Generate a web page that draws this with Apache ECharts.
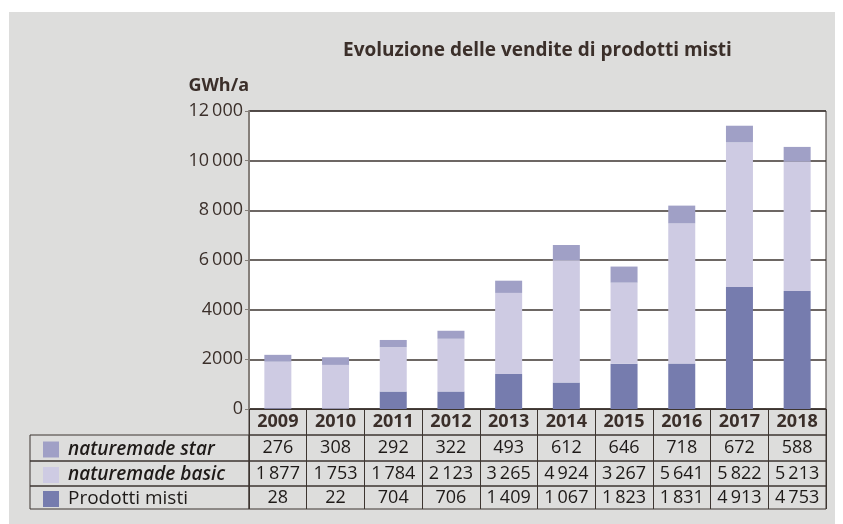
<!DOCTYPE html>
<html lang="it">
<head>
  <meta charset="UTF-8">
  <title>Evoluzione delle vendite di prodotti misti</title>
  <script src="https://cdnjs.cloudflare.com/ajax/libs/echarts/6.0.0/echarts.min.js"></script>
  <style>
    body { margin: 0; background: #fff; }
    #frame {
      position: absolute;
      left: 9px; top: 12px;
      width: 826px; height: 512px;
      background: #dddddc;
    }
    #chart { position: absolute; left: 0; top: 0; width: 843px; height: 524px; }
  </style>
</head>
<body>
  <div id="frame"></div>
  <div id="chart"></div>

  <script>
    // data
    const years = ['2009', '2010', '2011', '2012', '2013', '2014', '2015', '2016', '2017', '2018'];
    const starValues = [276, 308, 292, 322, 493, 612, 646, 718, 672, 588];
    const basicValues = [1877, 1753, 1784, 2123, 3265, 4924, 3267, 5641, 5822, 5213];
    const mistiValues = [28, 22, 704, 706, 1409, 1067, 1823, 1831, 4913, 4753];
    const yTickLabels = ['0', '2000', '4000', '6\u2009000', '8\u2009000', '10\u2009000', '12\u2009000'];

    const seriesNames = ['naturemade star', 'naturemade basic', 'Prodotti misti'];
    const rowValues = [starValues, basicValues, mistiValues];

    const ink = '#3b2f2a';
    const line = '#3d3530';
    const colors = { star: '#a0a0c6', basic: '#cecbe3', misti: '#767cae' };
    const font = '"Open Sans", "Noto Sans", sans-serif';

    // thin space as thousands separator
    function fmt(v) {
      const s = String(v);
      return s.length > 3 ? s.slice(0, s.length - 3) + '\u2009' + s.slice(-3) : s;
    }

    const plotLeft = 249, plotWidth = 577;
    const rows = [
      { top: 435, height: 26 },
      { top: 461, height: 25 },
      { top: 486, height: 23 }
    ];

    const grids = [
      // main plot
      { left: plotLeft, top: 111, width: plotWidth, height: 298, show: true,
        backgroundColor: '#fff', borderColor: line, borderWidth: 1 },
      // year header row
      { left: plotLeft, top: 409, width: plotWidth, height: 26, show: true,
        borderColor: line, borderWidth: 1 }
    ];
    rows.forEach(r => {
      grids.push({ left: plotLeft, top: r.top, width: plotWidth, height: r.height,
        show: true, borderColor: line, borderWidth: 1 });
    });
    rows.forEach(r => {
      grids.push({ left: 30, top: r.top, width: plotLeft - 30, height: r.height,
        show: true, borderColor: line, borderWidth: 1 });
    });

    const xAxes = [
      { type: 'category', data: years, gridIndex: 0,
        axisLine: { lineStyle: { color: line, width: 1 } },
        axisTick: { show: false }, axisLabel: { show: false } },
      { type: 'category', data: years, gridIndex: 1,
        axisLine: { show: false }, axisTick: { show: false },
        splitLine: { show: true, lineStyle: { color: line, width: 1 } },
        axisLabel: { inside: true, margin: 13, verticalAlign: 'middle',
          color: ink, fontFamily: font, fontWeight: 'bold', fontSize: 18 } }
    ];
    rows.forEach((r, i) => {
      xAxes.push({ type: 'category', data: years, gridIndex: 2 + i,
        axisLine: { show: false }, axisTick: { show: false },
        splitLine: { show: true, lineStyle: { color: line, width: 1 } },
        axisLabel: { inside: true, margin: r.height / 2, verticalAlign: 'middle',
          color: '#1e1a18', fontFamily: font, fontSize: 18,
          formatter: (v, idx) => fmt(rowValues[i][idx]) } });
    });
    rows.forEach((r, i) => {
      xAxes.push({ type: 'value', gridIndex: 5 + i, show: false });
    });

    const yAxes = [
      { type: 'value', gridIndex: 0, min: 0, max: 12000, interval: 2000,
        name: 'GWh/a', nameLocation: 'end', nameGap: 16,
        nameTextStyle: { color: ink, fontFamily: font, fontWeight: 'bold', fontSize: 18,
          align: 'right', padding: [0, 0, 0, 0] },
        axisLine: { show: true, lineStyle: { color: '#857f7a', width: 2 } },
        axisTick: { show: true, length: 4, lineStyle: { color: '#857f7a' } },
        splitLine: { show: true, lineStyle: { color: '#3d3530', width: 1.5 } },
        axisLabel: { color: ink, fontFamily: font, fontSize: 18, margin: 6,
          formatter: v => yTickLabels[Math.round(v / 2000)] } }
    ];
    for (let g = 1; g < 8; g++) {
      yAxes.push({ type: 'value', gridIndex: g, show: false });
    }

    const legends = seriesNames.map((name, i) => ({
      data: [name],
      left: 43,
      top: rows[i].top + (rows[i].height - 16) / 2,
      icon: 'rect',
      itemWidth: 16,
      itemHeight: 16,
      padding: 0,
      selectedMode: false,
      textStyle: {
        color: '#1e1a18', fontFamily: font, fontSize: 19, lineHeight: 16,
        padding: [0, 0, 0, 4],
        fontStyle: i < 2 ? 'italic' : 'normal',
        fontWeight: i < 2 ? 600 : 'normal'
      }
    }));

    const chart = echarts.init(document.getElementById('chart'));
    chart.setOption({
      animation: false,
      title: {
        text: 'Evoluzione delle vendite di prodotti misti',
        left: 338, top: 36,
        textStyle: { color: ink, fontFamily: font, fontWeight: 'bold', fontSize: 19 }
      },
      legend: legends,
      grid: grids,
      xAxis: xAxes,
      yAxis: yAxes,
      series: [
        { name: 'Prodotti misti', type: 'bar', stack: 'total', data: mistiValues,
          barWidth: 27, itemStyle: { color: colors.misti } },
        { name: 'naturemade basic', type: 'bar', stack: 'total', data: basicValues,
          barWidth: 27, itemStyle: { color: colors.basic } },
        { name: 'naturemade star', type: 'bar', stack: 'total', data: starValues,
          barWidth: 27, itemStyle: { color: colors.star } }
      ]
    });
  </script>
</body>
</html>
